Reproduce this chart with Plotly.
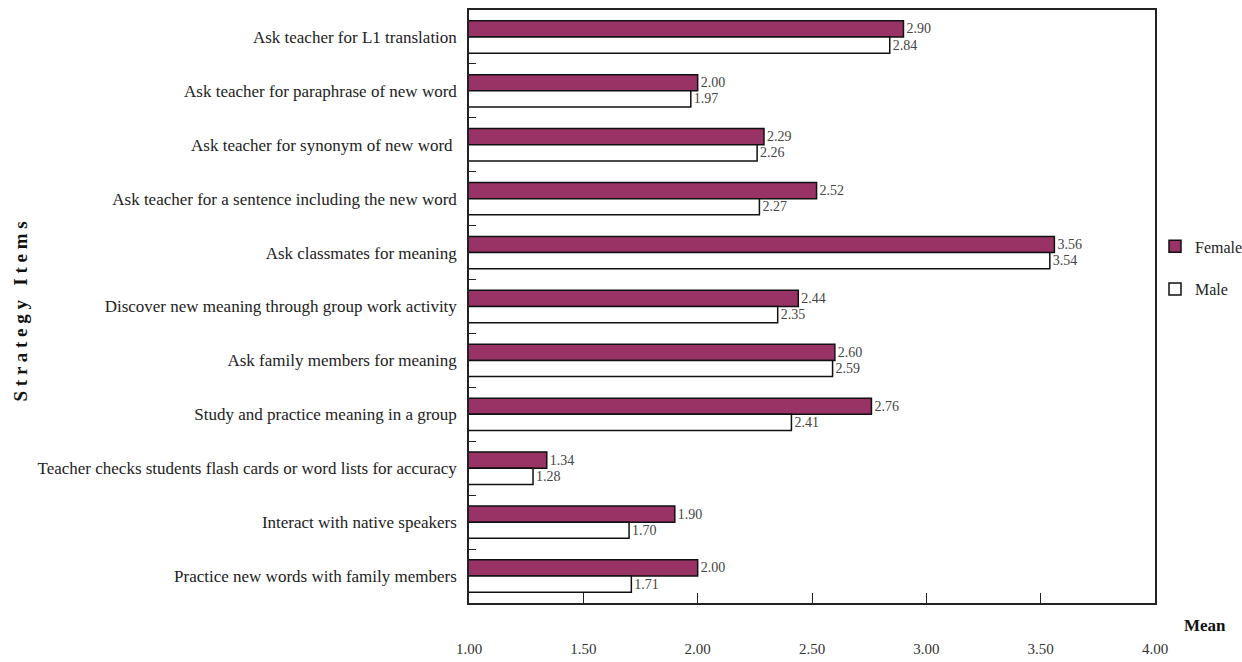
import plotly.graph_objects as go

# Strategy items, listed top to bottom
items = [
    "Ask teacher for L1 translation",
    "Ask teacher for paraphrase of new word",
    "Ask teacher for synonym of new word ",
    "Ask teacher for a sentence including the new word",
    "Ask classmates for meaning",
    "Discover new meaning through group work activity",
    "Ask family members for meaning",
    "Study and practice meaning in a group",
    "Teacher checks students flash cards or word lists for accuracy",
    "Interact with native speakers",
    "Practice new words with family members",
]
female_mean = [2.90, 2.00, 2.29, 2.52, 3.56, 2.44, 2.60, 2.76, 1.34, 1.90, 2.00]
male_mean = [2.84, 1.97, 2.26, 2.27, 3.54, 2.35, 2.59, 2.41, 1.28, 1.70, 1.71]
x_ticks = [1.0, 1.5, 2.0, 2.5, 3.0, 3.5, 4.0]
x_tick_labels = ["1.00", "1.50", "2.00", "2.50", "3.00", "3.50", "4.00"]

SERIF = "Liberation Serif"
LINE = "#222222"
PLOT_W = 1242 - 469 - 87

fig = go.Figure()
fig.add_trace(go.Bar(
    name="Female", y=items, x=female_mean, orientation="h",
    marker=dict(color="#993366", line=dict(color="#111111", width=1.5)),
    text=[f"{v:.2f}" for v in female_mean], textposition="outside",
    textfont=dict(family=SERIF, size=14, color="#444444"),
    cliponaxis=False, legendgroup="f",
))
fig.add_trace(go.Bar(
    name="Male", y=items, x=male_mean, orientation="h",
    marker=dict(color="#ffffff", line=dict(color="#111111", width=1.5)),
    text=[f"{v:.2f}" for v in male_mean], textposition="outside",
    textfont=dict(family=SERIF, size=14, color="#444444"),
    cliponaxis=False, legendgroup="m",
))

fig.update_layout(
    width=1242, height=662,
    margin=dict(l=469, r=87, t=10, b=59, autoexpand=False),
    paper_bgcolor="white", plot_bgcolor="white",
    barmode="group", bargap=0.4, bargroupgap=0.0,
    font=dict(family=SERIF, size=16, color="#222222"),
    showlegend=True,
    legend=dict(
        x=1.0, y=0.63, xanchor="left", yanchor="top",
        font=dict(family=SERIF, size=16, color="#222222"),
        traceorder="grouped", tracegroupgap=19,
        bgcolor="rgba(0,0,0,0)",
    ),
    xaxis=dict(
        range=[1, 4], tickvals=x_ticks, ticktext=x_tick_labels,
        showgrid=False, zeroline=False,
        showline=True, linecolor=LINE, linewidth=1.5, mirror=True,
        ticks="inside", ticklen=10, tickcolor=LINE, tickwidth=1,
        ticklabelstandoff=31,
        tickfont=dict(family=SERIF, size=15, color="#333333"),
    ),
    yaxis=dict(
        autorange="reversed", showgrid=False, zeroline=False,
        showline=True, linecolor=LINE, linewidth=1.5, mirror=True,
        ticks="inside", ticklen=7, tickcolor=LINE, tickwidth=1,
        tickson="boundaries", ticklabelstandoff=7,
        tickfont=dict(family=SERIF, size=17, color="#222222"),
    ),
    annotations=[
        dict(text="<b>S t r a t e g y   I t e m s</b>", textangle=-90,
             x=-(469 - 20) / PLOT_W, xref="paper", y=0.4916, yref="paper",
             showarrow=False, xanchor="center", yanchor="middle",
             font=dict(family=SERIF, size=19, color="#111111")),
        dict(text="<b>Mean</b>", x=1.0, xref="paper", y=-0.0385, yref="paper",
             xshift=50, showarrow=False, xanchor="center", yanchor="middle",
             font=dict(family=SERIF, size=17, color="#111111")),
    ],
)

fig.write_html("out.html")
